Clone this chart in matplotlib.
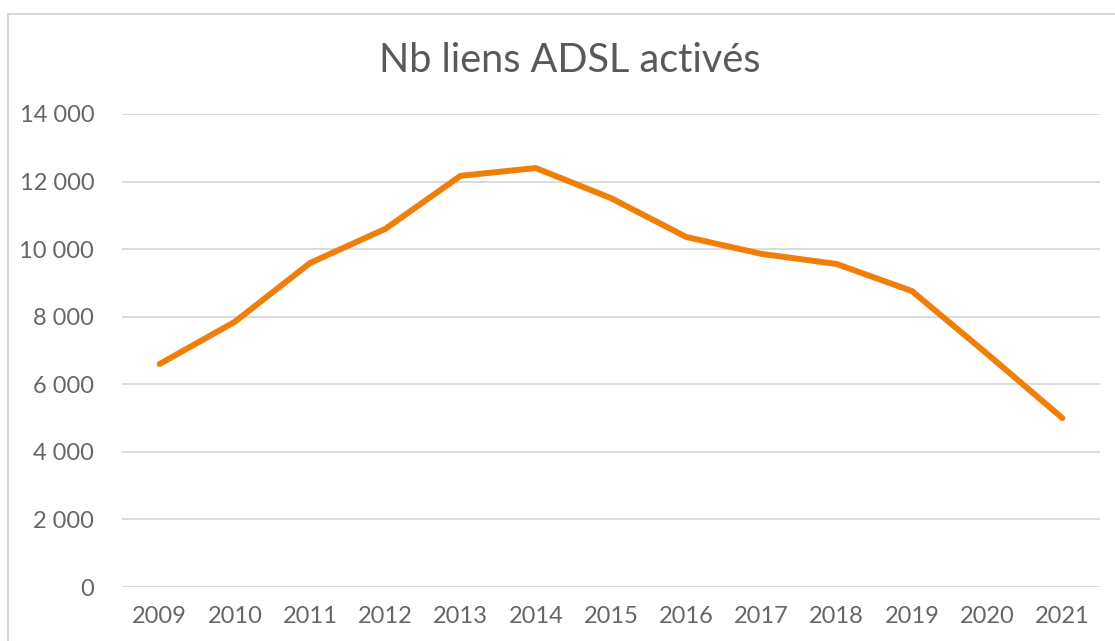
import numpy as np
import matplotlib.pyplot as plt
from matplotlib.patches import Rectangle

# donnees
annees = ['2009', '2010', '2011', '2012', '2013', '2014', '2015',
          '2016', '2017', '2018', '2019', '2020', '2021']
liens = [6600, 7850, 9590, 10600, 12170, 12400, 11510,
         10360, 9860, 9560, 8760, 6900, 5000]
yticks = [0, 2000, 4000, 6000, 8000, 10000, 12000, 14000]

plt.rcParams['font.family'] = ['Lato', 'DejaVu Sans']

fig = plt.figure(figsize=(11.15, 6.41), dpi=100)
ax = fig.add_axes([122 / 1115, 54 / 641, 978 / 1115, 473 / 641])

# cadre du graphique
fig.patches.append(Rectangle((8 / 1115, -0.1), 1.2, (641 - 14) / 641 + 0.1,
                             transform=fig.transFigure, fill=False,
                             edgecolor='#d9d9d9', linewidth=1.5))

x = np.arange(len(annees))
ax.plot(x, liens, color='#F07F09', linewidth=4.3, solid_capstyle='round')

ax.set_xlim(-0.5, len(annees) - 0.5)
ax.set_ylim(0, 14000)
ax.set_yticks(yticks)
ax.set_yticklabels([f'{v:,}'.replace(',', ' ') for v in yticks])
ax.set_xticks(x)
ax.set_xticklabels(annees)
ax.grid(axis='y', color='#d9d9d9', linewidth=1.3)
ax.set_axisbelow(True)
for s in ax.spines.values():
    s.set_visible(False)
ax.tick_params(length=0, labelsize=17, colors='#666666', pad=14)
ax.tick_params(axis='y', pad=20)

fig.text(570 / 1115, 1 - 61 / 641, 'Nb liens ADSL activés', ha='center',
         va='center', fontsize=28.5, color='#595959')

fig.savefig('out.png', dpi=100)
